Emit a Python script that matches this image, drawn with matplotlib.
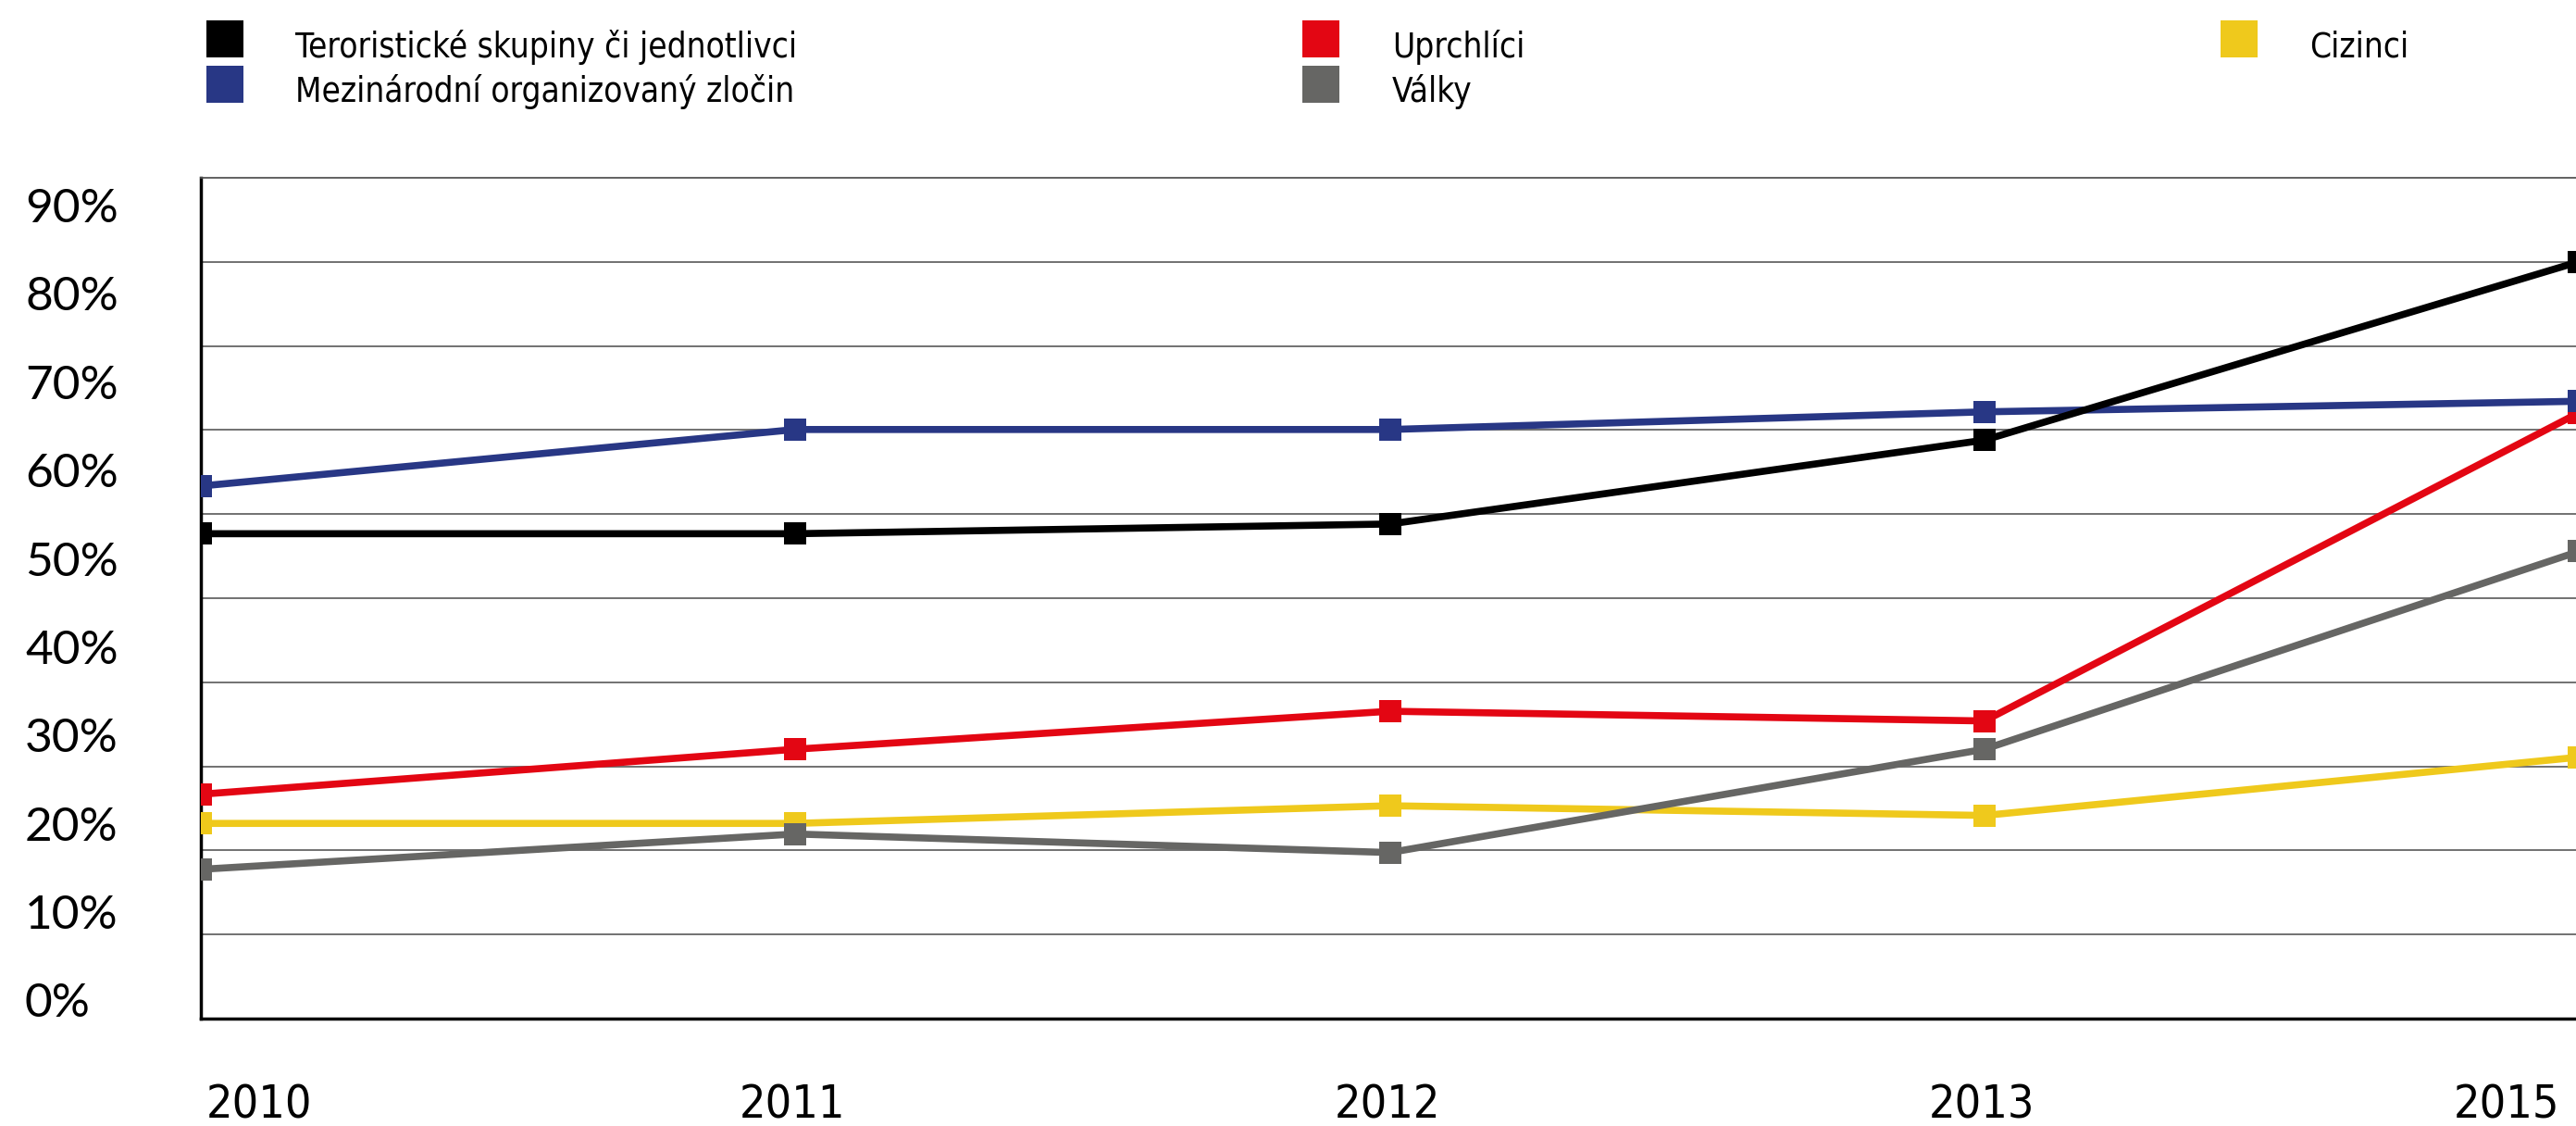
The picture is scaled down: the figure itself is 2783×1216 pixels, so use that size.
"""Line chart: perceived threats in Czech survey, 2010-2015."""

import matplotlib
matplotlib.use("Agg")
import matplotlib.pyplot as plt
import matplotlib.transforms as mtransforms
from matplotlib import font_manager as fm
from matplotlib.patches import Rectangle
import numpy as np

# Data (percent)
years = ["2010", "2011", "2012", "2013", "2015"]
terrorists = [52.8, 52.8, 53.9, 63.4, 83.6]
org_crime = [58.2, 64.6, 64.6, 66.6, 67.8]
refugees = [23.3, 28.4, 32.7, 31.6, 66.5]
wars = [14.8, 18.8, 16.7, 28.4, 50.8]
foreigners = [20.0, 20.0, 22.0, 20.9, 27.5]

series_names = ["Teroristické skupiny či jednotlivci", "Mezinárodní organizovaný zločin",
                "Uprchlíci", "Války", "Cizinci"]
series_colors = ["#000000", "#283785", "#e30613", "#666664", "#efc91c"]
yticks = list(range(0, 100, 10))

# look for a narrow face; otherwise Roboto is the narrowest we have
narrow_fp = None
for f in fm.fontManager.ttflist:
    if f.weight in (400, "normal", "regular") and f.style == "normal" and (
            "Narrow" in f.name or "Condensed" in f.name
            or f.stretch in ("condensed", "semi-condensed")):
        narrow_fp = fm.FontProperties(fname=f.fname)
        break
if narrow_fp is None:
    narrow_fp = fm.FontProperties(family=["Roboto", "DejaVu Sans"])
    year_size, legend_size = 34, 26
else:
    year_size, legend_size = 36, 26.5

W, H = 2783, 1216
fig = plt.figure(figsize=(W / 100, H / 100), dpi=100)
ax = fig.add_axes([217 / W, 1 - 1100 / H, (W - 217) / W, (1100 - 192) / H])

x = np.arange(len(years))
ax.set_xlim(0, (W - 217) / 642.3)
ylo, yhi = -2.1, 93.1
ax.set_ylim(ylo, yhi)

# horizontal grid lines (evenly spaced between the frame lines)
for gy in np.linspace(ylo, yhi, 11)[1:-1]:
    ax.axhline(gy, color="#666666", lw=1.3, zorder=1)

# draw order so that blue sits over red and grey over yellow
all_vals = [terrorists, org_crime, refugees, wars, foreigners]
for idx in [4, 2, 3, 1, 0]:
    ax.plot(x, all_vals[idx], color=series_colors[idx], lw=5.5, marker="s", ms=17,
            mew=0, zorder=3)

for s in ["left", "bottom"]:
    ax.spines[s].set_color("black")
    ax.spines[s].set_linewidth(2.5)
ax.spines["top"].set_color("#555555")
ax.spines["top"].set_linewidth(1.3)
ax.spines["right"].set_visible(False)

ax.set_xticks([])
ax.set_yticks(yticks)
ax.set_yticklabels([f"{v}%" for v in yticks], fontfamily="Lato", fontsize=37,
                   ha="left", color="black")
ax.tick_params(axis="y", length=0, pad=136.8)

# year labels under the axis
base = mtransforms.blended_transform_factory(ax.transData, fig.transFigure)
for i, yr in enumerate(years):
    if i == 0:
        ha, dx = "left", 6
    elif i == len(years) - 1:
        ha, dx = "right", -21
    else:
        ha, dx = "center", -3
    tr = base + mtransforms.ScaledTranslation(dx / 100, 0, fig.dpi_scale_trans)
    ax.text(x[i], 1 - 1208 / H, yr, transform=tr, ha=ha, va="baseline",
            fontproperties=narrow_fp, fontsize=year_size, color="black", clip_on=False)

# legend drawn by hand (3 columns, 2 rows)
cols_x = [(222.7, 319), (222.7, 319), (1407, 1504), (1407, 1504), (2399, 2495)]
rows_y = [(21.7, 62), (71, 110.5), (21.7, 62), (71, 110.5), (21.7, 62)]
for name, col, (sx, tx), (sy, by) in zip(series_names, series_colors, cols_x, rows_y):
    fig.add_artist(Rectangle((sx / W, 1 - (sy + 40) / H), 40 / W, 40 / H,
                             transform=fig.transFigure, color=col, lw=0))
    fig.text(tx / W, 1 - by / H, name, ha="left", va="baseline",
             fontproperties=narrow_fp, fontsize=legend_size, color="black")

fig.savefig("out.png", dpi=100)
